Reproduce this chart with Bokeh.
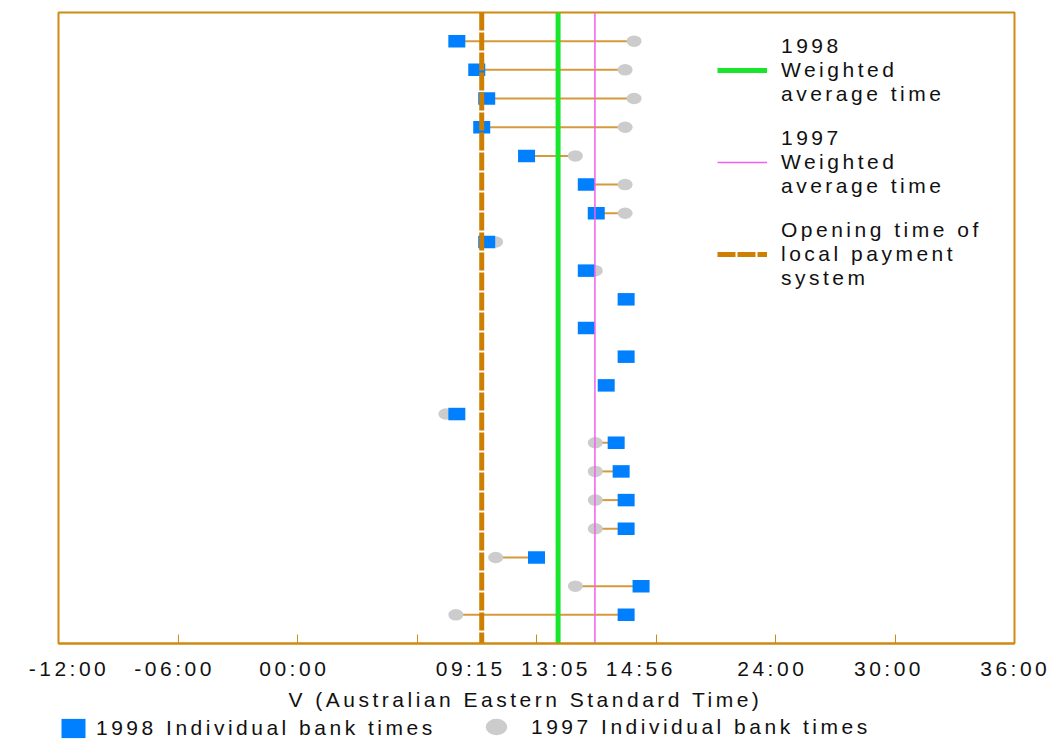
import numpy as np
from bokeh.plotting import figure
from bokeh.layouts import column
from bokeh.models import (Range1d, FixedTicker, Legend, LegendItem, ColumnDataSource,
                          InlineStyleSheet, Title)
from bokeh.embed import file_html
from bokeh.resources import INLINE

# ---- data (hours, Australian Eastern Standard Time) ----
banks = list(range(1, 22))
times_1998 = [8.0, 9.0, 9.5, 9.25, 11.5, 14.5, 15.0, 9.5, 14.5, 16.5, 14.5,
              16.5, 15.5, 8.0, 16.0, 16.25, 16.5, 16.5, 12.0, 17.25, 16.5]
times_1997 = [16.9, 16.45, 16.9, 16.45, 13.95, 16.45, 16.45, 9.95, 14.95, np.nan, np.nan,
              np.nan, np.nan, 7.45, 14.95, 14.95, 14.95, 14.95, 9.95, 13.95, 7.95]
avg_1998 = 13 + 5 / 60     # 13:05
avg_1997 = 14 + 56 / 60    # 14:56
open_time = 9 + 15 / 60    # 09:15
tick_marks = [-12, -6, 0, 6, 12, 18, 24, 30, 36]
tick_labels = ["-12:00", "-06:00", "00:00", "09:15", "13:05", "14:56", "24:00", "30:00", "36:00"]
tick_label_pos = [-12, -6.7, -0.6, 8.26, 12.54, 16.8, 23.4, 29.26, 35.6]

ORANGE = "#D08A12"
FONT = "Liberation Sans"
FS = "21px"
TXT = "#111111"
SPACING_CSS = ":host { letter-spacing: 3.5px; }"

y_lo, y_hi = 0, len(banks) + 1

p = figure(width=1052, height=713, x_range=Range1d(-12, 36), y_range=Range1d(y_hi, y_lo),
           output_backend="svg", toolbar_location=None,
           min_border_left=58, min_border_right=38, min_border_top=12, min_border_bottom=70)
p.grid.visible = False
p.yaxis.visible = False
p.outline_line_color = ORANGE
p.outline_line_width = 2
p.background_fill_color = "white"
p.stylesheets = [InlineStyleSheet(css=SPACING_CSS)]

src = ColumnDataSource(dict(bank=banks, t98=times_1998, t97=times_1997))

p.segment(x0="t98", x1="t97", y0="bank", y1="bank", source=src, line_color="#D49A3C", line_width=2)
p.ellipse(x="t97", y="bank", width=15, height=11.5, width_units="screen", height_units="screen",
          source=src, fill_color="#CCCCCC", line_color=None)
p.rect(x="t98", y="bank", width=17, height=12.5, width_units="screen", height_units="screen",
       source=src, fill_color="#0080FF", line_color=None)

r_open = p.line(x=[open_time, open_time], y=[y_lo, y_hi], line_color="#CC7F00", line_width=5,
                line_dash="18 2")
r_avg98 = p.line(x=[avg_1998, avg_1998], y=[y_lo, y_hi], line_color="#19E62A", line_width=5)
r_avg97 = p.line(x=[avg_1997, avg_1997], y=[y_lo, y_hi], line_color="#F060F0", line_width=1.5)

ax = p.xaxis[0]
ax.axis_label = None
ax.ticker = FixedTicker(ticks=tick_label_pos, minor_ticks=tick_marks)
ax.major_label_overrides = {v: l for v, l in zip(tick_label_pos, tick_labels)}
ax.major_tick_in = 0
ax.major_tick_out = 0
ax.minor_tick_in = 9
ax.minor_tick_out = 0
ax.minor_tick_line_color = ORANGE
ax.axis_line_color = ORANGE
ax.axis_line_width = 2
ax.major_label_text_font = FONT
ax.major_label_text_font_size = FS
ax.major_label_text_color = TXT
ax.major_label_standoff = 13

p.add_layout(Title(text="V (Australian Eastern Standard Time)", align="left", offset=230,
                   text_font=FONT, text_font_size=FS, text_font_style="normal",
                   text_color=TXT, standoff=6), "below")

leg = Legend(items=[
    LegendItem(label="1998\nWeighted\naverage time", renderers=[r_avg98]),
    LegendItem(label="1997\nWeighted\naverage time", renderers=[r_avg97]),
    LegendItem(label="Opening time of\nlocal payment\nsystem", renderers=[r_open]),
], location=(659, 353), border_line_color=None, background_fill_alpha=0,
    label_text_font=FONT, label_text_font_size=FS, label_text_color=TXT,
    glyph_width=50, label_standoff=14, spacing=20, padding=0, margin=0)
p.add_layout(leg)

# ---- bottom legend strip (separate small figure, same series styles) ----
p2 = figure(width=1052, height=27, x_range=Range1d(100, 101), y_range=Range1d(100, 101),
            output_backend="svg", toolbar_location=None,
            x_axis_location=None, y_axis_location=None,
            min_border_left=0, min_border_right=0, min_border_top=0, min_border_bottom=0)
p2.grid.visible = False
p2.outline_line_color = None
p2.stylesheets = [InlineStyleSheet(css=SPACING_CSS)]
k97 = p2.ellipse(x="t97", y="bank", width=15, height=11.5, width_units="screen", height_units="screen",
                 source=src, fill_color="#CCCCCC", line_color=None)
k98 = p2.rect(x="t98", y="bank", width=17, height=12.5, width_units="screen", height_units="screen",
              source=src, fill_color="#0080FF", line_color=None)

leg_a = Legend(items=[LegendItem(label="1998 Individual bank times", renderers=[k98])],
               location=(0, 0), border_line_color=None, background_fill_alpha=0,
               label_text_font=FONT, label_text_font_size=FS, label_text_color=TXT,
               glyph_width=30, glyph_height=24, label_standoff=8, padding=0, margin=0)
leg_b = Legend(items=[LegendItem(label="1997 Individual bank times", renderers=[k97])],
               location=(424, 0), border_line_color=None, background_fill_alpha=0,
               label_text_font=FONT, label_text_font_size=FS, label_text_color=TXT,
               glyph_width=28, glyph_height=27, label_standoff=21, padding=0, margin=0)
p2.add_layout(leg_a)
p2.add_layout(leg_b)

open("out.html", "w").write(file_html(column(p, p2), INLINE))
